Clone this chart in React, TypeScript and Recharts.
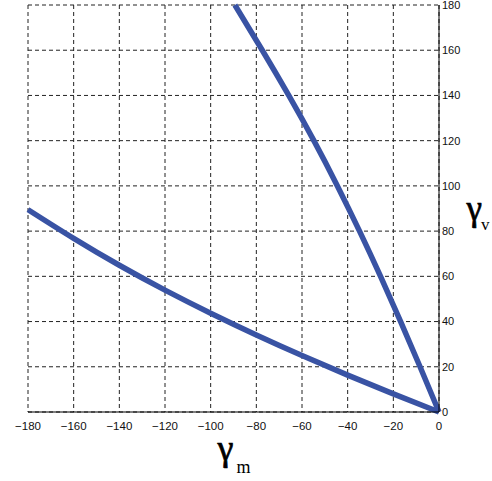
import React from 'react'
import { LineChart, Line, XAxis, YAxis, CartesianGrid, Label } from 'recharts'

// steep branch (gamma_v rises fast as gamma_m goes negative)
const steepM = [0, -8.3, -16.8, -25.6, -34.8, -44.5, -54.8, -65.8, -77.4, -89.4]
const steepV = [0, 20, 40, 60, 80, 100, 120, 140, 160, 180]

// shallow branch
const shallowM = [-180, -160, -140, -120, -100, -80, -60, -40, -20, 0]
const shallowV = [89.5, 76.8, 64.9, 53.9, 43.7, 34.1, 25.0, 16.3, 8.0, 0]

const xTicks = [-180, -160, -140, -120, -100, -80, -60, -40, -20, 0]
const yTicks = [0, 20, 40, 60, 80, 100, 120, 140, 160, 180]

const steep = steepM.map((m, i) => ({ x: m, y: steepV[i] }))
const shallow = shallowM.map((m, i) => ({ x: m, y: shallowV[i] }))

const blue = '#3953a4'
const tickFont = { fontFamily: 'Liberation Sans, Arial, sans-serif', fill: '#111' }
const fmt = (v: number) => String(v).replace('-', '\u2212')

const XName = (props: any) => {
  const { x, y, width } = props.viewBox
  const cx = x + width / 2
  return (
    <text fontFamily="Liberation Serif, Times New Roman, serif" fill="#000">
      <tspan x={cx - 8} y={y + 48} fontSize={36} textAnchor="middle" stroke="#000" strokeWidth={0.7}>γ</tspan>
      <tspan x={cx + 3} y={y + 61} fontSize={18}>m</tspan>
    </text>
  )
}

const YName = (props: any) => {
  const { x, y, height } = props.viewBox
  const cy = y + height / 2
  return (
    <text fontFamily="Liberation Serif, Times New Roman, serif" fill="#000">
      <tspan x={x + 27.5} y={cy + 11} fontSize={35} stroke="#000" strokeWidth={0.7}>γ</tspan>
      <tspan x={x + 42} y={cy + 21} fontSize={17}>v</tspan>
    </text>
  )
}

export default function App() {
  return (
    <div style={{ position: 'absolute', left: 0, top: 0, background: '#fff' }}>
      <LineChart width={492} height={481} margin={{ top: 5, right: 0, bottom: 0, left: 28 }}>
        <CartesianGrid stroke="#222" strokeDasharray="4 3" vertical horizontal />
        <XAxis
          type="number"
          dataKey="x"
          domain={[-180, 0]}
          ticks={xTicks}
          height={69}
          tickLine={false}
          tickSize={0}
          tickMargin={10}
          tickFormatter={fmt}
          axisLine={{ stroke: '#000' }}
          tick={{ ...tickFont, fontSize: 11.5 }}
          interval={0}
        >
          <Label content={<XName />} />
        </XAxis>
        <YAxis
          type="number"
          orientation="right"
          domain={[0, 180]}
          ticks={yTicks}
          width={53}
          tickLine={false}
          tickSize={0}
          tickMargin={3}
          axisLine={{ stroke: '#000' }}
          tick={{ ...tickFont, fontSize: 11 }}
          interval={0}
        >
          <Label content={<YName />} />
        </YAxis>
        <Line data={shallow} dataKey="y" type="natural" stroke={blue} strokeWidth={5.5} dot={false} isAnimationActive={false} />
        <Line data={steep} dataKey="y" type="natural" stroke={blue} strokeWidth={5.5} dot={false} isAnimationActive={false} />
      </LineChart>
    </div>
  )
}
